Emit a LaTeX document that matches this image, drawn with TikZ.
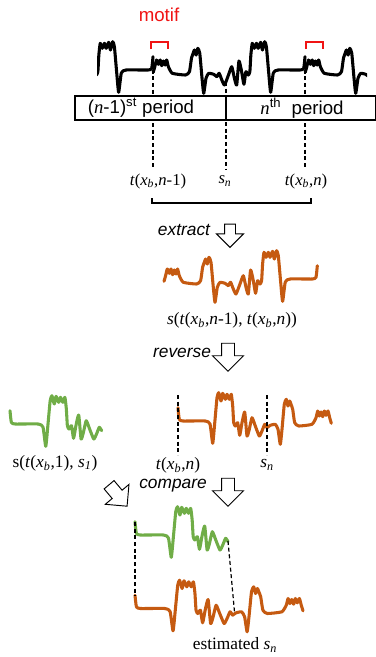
\documentclass[tikz,border=0pt]{standalone}
\usepackage{fontspec}
\setmainfont{Liberation Serif}
\setsansfont{Liberation Sans}
\usepackage{tikz}
\usetikzlibrary{positioning, shapes.arrows}
\usepackage{xcolor}
\definecolor{waveorange}{RGB}{197, 90, 17}
\definecolor{wavegreen}{RGB}{112, 173, 71}
\definecolor{motifred}{RGB}{240, 20, 20}
\newcommand{\tpt}[1]{\textit{t}(\textit{x}\textsubscript{\textit{b}},#1)}
\newcommand{\spt}[1]{\textit{s}\textsubscript{\textit{#1}}}
\tikzset{
  wavehead/.pic={\draw plot[smooth, tension=0.3] coordinates {
    (0,-12.3) (1.3,-0.7) (5,1) (27.3,1) (32,4) (34.7,23.3) (36.7,3.3) (39,-22.3)
    (40.7,-27.3) (43,-19) (44.7,-26.7) (47.3,-20.7) (49,-25.7) (51.3,-20.7) (53.3,-25.7)
    (54.7,-14) (55.7,2.7) (57.3,6) (59.7,2.7) (61.7,15.3) (64,2.7) (66.7,-8) (69,16)
    (71.3,9.3) (74,-2.3) (77.3,6) (81.3,16) (84,11) (86.7,4.3) (89,7.7)};},
  wavetail/.pic={\draw plot[smooth, tension=0.3] coordinates {
    (89,7.7) (92.3,5.3) (97.3,4.3) (100,9.3) (102.3,24.3) (104,9.3) (106.3,-15.7)
    (108.3,-20.7) (110,-14) (111.7,-19) (113,-15.7) (114.7,-10.7) (116.7,2.7) (120.7,6)
    (134,4.3) (138,-2.3) (139.7,-9) (141.3,-4) (143,-8) (144.7,-3.3) (146.3,-9)
    (148,-4.7) (150,-9) (151.7,-2.3) (153.3,3.3)};}
}

\begin{document}
\begin{tikzpicture}[x=0.75pt, y=-0.75pt, font=\fontsize{13}{15}\selectfont,
  signal/.style={line width=2.3pt, line join=round, line cap=round},
  cut/.style={densely dashed, line width=0.9pt},
  hollowarrow/.style={draw, fill=white, single arrow, single arrow head extend=6.75pt,
    minimum height=21pt, inner sep=4.5pt, line width=0.7pt, rotate=-90},
  sflab/.style={font=\sffamily\fontsize{14}{16}\selectfont},
  cmdlab/.style={font=\sffamily\itshape\fontsize{13}{15}\selectfont},
  ticklab/.style={font=\fontsize{12.5}{14}\selectfont}]
  \useasboundingbox (0,0) rectangle (375,657);

  % periodic signal on top
  \begin{scope}
    \clip (97,20) rectangle (367,100);
    \foreach \p in {153,305,457} {
      \pic[signal, xscale=-0.99] at (\p,69) {wavehead};
      \pic[signal, xscale=-0.99] at (\p,69) {wavetail};
    }
  \end{scope}
  \node[sflab, motifred] (motif) at (159,15) {motif};
  \foreach \m in {151,306}
    \draw[motifred, line width=1.5pt] (\m,49) -- ++(0,-7) -- ++(17,0) -- ++(0,7);

  % period marks
  \node[ticklab] (tprev) at (158,181) {\tpt{\textit{n}-1}};
  \node[ticklab] (sntop) at (225,181) {\spt{n}};
  \node[ticklab] (tcur) at (306,181) {\tpt{\textit{n}}};
  \coordinate (dprev) at (153,63);
  \coordinate (dsn) at (226,82);
  \coordinate (dcur) at (305,63);
  \draw[cut, shorten >=1pt] (dprev) -- (dprev |- tprev.north);
  \draw[cut, shorten >=1pt] (dsn) -- (dsn |- sntop.north);
  \draw[cut, shorten >=1pt] (dcur) -- (dcur |- tcur.north);
  \draw[line width=1.4pt, fill=white] (75,96) rectangle (376,120);
  \draw[line width=1.4pt] (226,96) -- (226,120);
  \node[sflab] (prevperiod) at (141,108) {({\rmfamily\textit{n}}-1)\textsuperscript{st} period};
  \node[sflab] (curperiod) at (302,108) {{\rmfamily\textit{n}}\textsuperscript{th}\ \ period};
  \coordinate (brl) at (152,203);
  \coordinate (brr) at (311,203);
  \draw[line width=1.3pt] (brl) ++(0,-5) -- (brl) -- (brr) -- ++(0,-5);

  % extract
  \node[cmdlab] (extract) at (184,230) {extract};
  \node[hollowarrow, minimum height=17.5pt, inner sep=3.75pt, single arrow head extend=6pt] (extarrow) at (230,233) {};
  \pic[signal, waveorange, xscale=-1] at (317.3,278) {wavehead};
  \pic[signal, waveorange, xscale=-1] at (317.3,278) {wavetail};
  \node (seglab) at (232,320) {\textit{s}(\tpt{\textit{n}-1}, \tpt{\textit{n}})};

  % reverse
  \node[cmdlab] (reverse) at (182,353) {reverse};
  \node[hollowarrow] (revarrow) at (228,354) {};
  \pic[signal, wavegreen, xscale=1.03] at (10,423) {wavehead};
  \node (reflab) at (55,463) {s(\tpt{1}, \spt{1})};
  \pic[signal, waveorange] at (178,420) {wavehead};
  \pic[signal, waveorange] at (178,420) {wavetail};
  \coordinate (rtop) at (178,395);
  \coordinate (rbot) at (178,455);
  \coordinate (stop) at (267,395);
  \coordinate (sbot) at (267,455);
  \draw[cut] (rtop) -- (rbot);
  \draw[cut] (stop) -- (sbot);
  \node (tmid) at (178,465) {\tpt{\textit{n}}};
  \node (snmid) at (267,465) {\spt{n}};

  % compare
  \node[cmdlab] (compare) at (173,486) {compare};
  \node[hollowarrow] (cmparrow) at (228,489) {};
  \node[hollowarrow, rotate=40] (diagarrow) at (116,493) {};
  \pic[signal, wavegreen, xscale=1.045] at (135,534) {wavehead};
  \pic[signal, waveorange, xscale=1.096] at (135,607.5) {wavehead};
  \pic[signal, waveorange, xscale=1.096] at (135,607.5) {wavetail};
  \coordinate (gstart) at (135,522);
  \coordinate (ostart) at (135,596);
  \coordinate (gend) at (228,541);
  \coordinate (osn) at (234.5,612);
  \draw[cut] (gstart) -- (ostart);
  \draw[cut] (gend) -- (osn);
  \node (estlab) at (235,645) {estimated \spt{n}};
\end{tikzpicture}
\end{document}
